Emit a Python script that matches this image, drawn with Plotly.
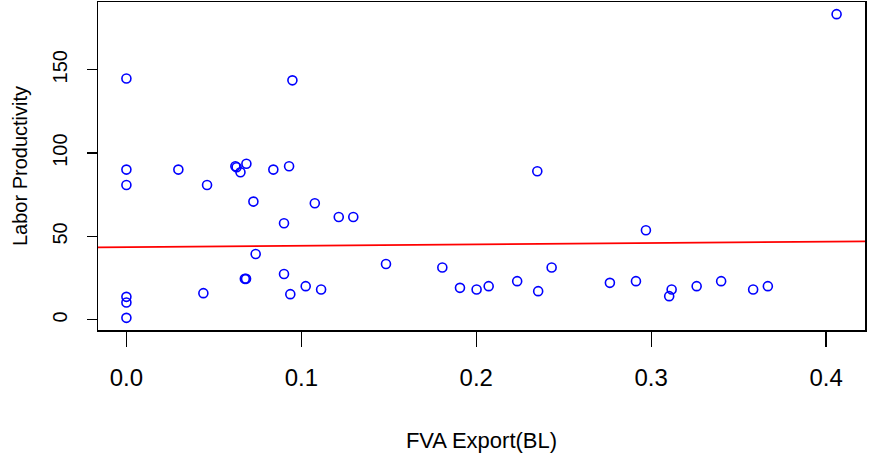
import plotly.graph_objects as go

fva_export = [0, 0, 0, 0, 0, 0, 0.0297, 0.0461, 0.044, 0.0623, 0.063, 0.0652, 0.0686,
              0.0726, 0.0739, 0.0677, 0.0684, 0.084, 0.093, 0.0901, 0.0901, 0.0937, 0.0949,
              0.1077, 0.1025, 0.1113, 0.1214, 0.1297, 0.1484, 0.1806, 0.1907, 0.2002, 0.2071,
              0.2234, 0.2349, 0.2354, 0.2431, 0.2764, 0.2913, 0.297, 0.3103, 0.3117, 0.326,
              0.34, 0.3583, 0.3667, 0.406]
labor_prod = [144.7, 90.1, 80.9, 13.8, 10.4, 1.2, 90.1, 80.9, 16.0, 92.1, 91.5, 88.5, 93.6,
              70.9, 39.5, 24.6, 24.6, 90.1, 92.1, 57.9, 27.5, 15.4, 143.6,
              69.9, 20.2, 18.2, 61.7, 61.7, 33.5, 31.4, 19.2, 18.2, 20.2,
              23.2, 89.1, 17.2, 31.4, 22.2, 23.2, 53.7, 14.2, 18.2, 20.2,
              23.2, 18.2, 20.2, 183.3]
fit_intercept = 43.6
fit_slope = 8.2

x_ticks = [0.0, 0.1, 0.2, 0.3, 0.4]
x_tick_labels = ["0.0", "0.1", "0.2", "0.3", "0.4"]
y_ticks = [0, 50, 100, 150]
y_tick_labels = ["0", "50", "100", "150"]

def r_range(v):
    lo, hi = min(v), max(v)
    pad = (hi - lo) * 0.04
    return [lo - pad, hi + pad]

xr = r_range(fva_export)
yr = r_range(labor_prod)

FONT = "Liberation Sans Narrow, Arial Narrow, Liberation Sans, Arial, sans-serif"

fig = go.Figure()
fig.add_trace(go.Scatter(
    x=fva_export, y=labor_prod, mode="markers",
    marker=dict(symbol="circle-open", size=9, color="#0000ff", line=dict(width=1.6, color="#0000ff")),
    showlegend=False, hoverinfo="skip"))
fig.add_trace(go.Scatter(
    x=xr, y=[fit_intercept + fit_slope * v for v in xr], mode="lines",
    line=dict(color="#ff0000", width=1.8), showlegend=False, hoverinfo="skip"))

fig.update_layout(
    width=871, height=462,
    margin=dict(l=98, r=6, t=2, b=132),
    paper_bgcolor="white", plot_bgcolor="white",
    font=dict(family=FONT, color="black"),
)
fig.update_xaxes(
    range=xr, tickvals=x_ticks, ticktext=x_tick_labels, automargin=False,
    showgrid=False, zeroline=False, showline=True, mirror=True, linecolor="black", linewidth=1.5,
    ticks="outside", ticklen=15, tickwidth=1.2, tickcolor="black",
    tickfont=dict(size=24, family=FONT), ticklabelstandoff=11,
    title=dict(text="FVA Export(BL)", font=dict(size=22, family=FONT), standoff=42),
)
fig.update_yaxes(
    range=yr, tickvals=y_ticks, ticktext=y_tick_labels, tickangle=-90, automargin=False,
    showgrid=False, zeroline=False, showline=True, mirror=True, linecolor="black", linewidth=1.5,
    ticks="outside", ticklen=10, tickwidth=1.2, tickcolor="black",
    tickfont=dict(size=20, family=FONT), ticklabelstandoff=12,
    title=dict(text="Labor Productivity", font=dict(size=20, family=FONT), standoff=15),
)
fig.write_html("out.html", config={"displayModeBar": False, "staticPlot": True},
               post_script="document.body.style.margin='0';document.body.style.overflow='hidden';")
